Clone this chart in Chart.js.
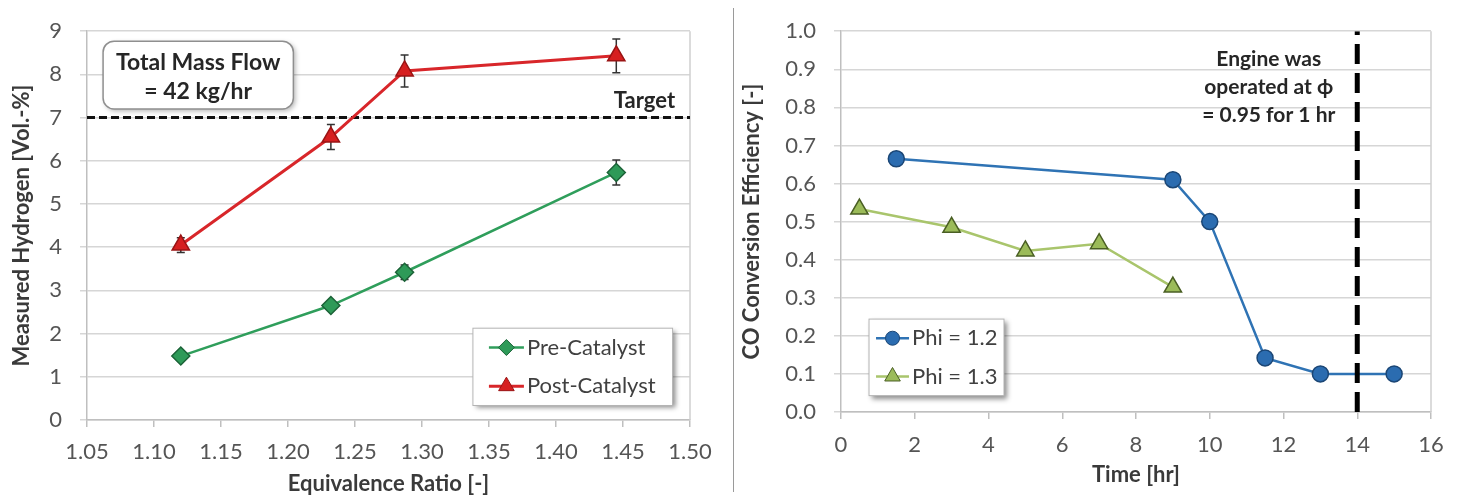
<!DOCTYPE html>
<html>
<head>
<meta charset="utf-8">
<script src="https://cdn.jsdelivr.net/npm/chart.js@4/dist/chart.umd.min.js"></script>
<style>
  body { margin: 0; background: #fff; width: 1458px; height: 497px; overflow: hidden; position: relative; }
  #leftBox { position: absolute; left: 0; top: 0; width: 730px; height: 497px; }
  #rightBox { position: absolute; left: 735px; top: 0; width: 723px; height: 497px; }
  #sep { position: absolute; left: 733px; top: 8px; width: 1px; height: 484px; background: #9a9a9a; }
</style>
</head>
<body>
<div id="leftBox"><canvas id="hydrogenChart"></canvas></div>
<div id="sep"></div>
<div id="rightBox"><canvas id="coChart"></canvas></div>
<script>
// left chart: hydrogen vs equivalence ratio
const ratio = [1.12, 1.232, 1.287, 1.445];
const preCatalyst = [1.48, 2.65, 3.42, 5.73];
const preErr = [0.08, 0.08, 0.17, 0.29];
const postCatalyst = [4.05, 6.55, 8.08, 8.43];
const postErr = [0.17, 0.29, 0.37, 0.39];
const targetH2 = 7;
const ratioRange = [1.05, 1.5];

// right chart: CO conversion efficiency vs time
const timePhi12 = [1.5, 9, 10, 11.5, 13, 15];
const effPhi12 = [0.665, 0.61, 0.5, 0.142, 0.1, 0.1];
const timePhi13 = [0.5, 3, 5, 7, 9];
const effPhi13 = [0.533, 0.485, 0.423, 0.442, 0.328];
const engineChangeTime = 14;

const FONT = 'Lato';
const tickColor = '#555555';
const titleColor = '#3a3a3a';

function pts(xs, ys) { return xs.map((x, i) => ({ x: x, y: ys[i] })); }

function makeExtras(cfg) {
  return {
    id: 'extras',
    beforeDatasetsDraw(chart) {
      const { ctx, chartArea: a, scales: { x, y } } = chart;
      ctx.save();
      ctx.strokeStyle = '#cfcfcf';
      ctx.lineWidth = 1.5;
      ctx.beginPath();
      ctx.moveTo(a.right, a.top);
      ctx.lineTo(a.right, a.bottom);
      ctx.stroke();
      // error bars
      ctx.strokeStyle = '#333';
      ctx.lineWidth = 1.5;
      (cfg.errors || []).forEach(e => {
        e.xs.forEach((xv, i) => {
          const px = x.getPixelForValue(xv);
          const t = y.getPixelForValue(e.ys[i] + e.err[i]);
          const b = y.getPixelForValue(e.ys[i] - e.err[i]);
          ctx.beginPath();
          ctx.moveTo(px, t); ctx.lineTo(px, b);
          ctx.moveTo(px - 4, t); ctx.lineTo(px + 4, t);
          ctx.moveTo(px - 4, b); ctx.lineTo(px + 4, b);
          ctx.stroke();
        });
      });
      ctx.restore();
    },
    afterDatasetsDraw(chart) {
      const { ctx, scales: { x, y } } = chart;
      ctx.save();
      if (cfg.box) {
        const bx = cfg.box;
        const l = x.getPixelForValue(bx.x0), r = x.getPixelForValue(bx.x1);
        const t = y.getPixelForValue(bx.y1), b = y.getPixelForValue(bx.y0);
        ctx.save();
        ctx.shadowColor = 'rgba(0,0,0,0.3)';
        ctx.shadowBlur = 5; ctx.shadowOffsetX = 2; ctx.shadowOffsetY = 2;
        ctx.fillStyle = '#fff';
        ctx.beginPath(); ctx.roundRect(l, t, r - l, b - t, 11); ctx.fill();
        ctx.restore();
        ctx.strokeStyle = '#8f8f8f'; ctx.lineWidth = 1.5;
        ctx.beginPath(); ctx.roundRect(l, t, r - l, b - t, 11); ctx.stroke();
      }
      (cfg.texts || []).forEach(tx => {
        ctx.font = 'bold ' + tx.size + 'px ' + FONT;
        ctx.fillStyle = '#262626';
        ctx.textAlign = 'center';
        ctx.textBaseline = 'middle';
        ctx.fillText(tx.text, x.getPixelForValue(tx.x), y.getPixelForValue(tx.y));
      });
      if (cfg.legend) {
        const lg = cfg.legend;
        const l = x.getPixelForValue(lg.x0), r = x.getPixelForValue(lg.x1);
        const t = y.getPixelForValue(lg.y1), b = y.getPixelForValue(lg.y0);
        ctx.save();
        ctx.shadowColor = 'rgba(0,0,0,0.45)';
        ctx.shadowBlur = 5; ctx.shadowOffsetX = 3; ctx.shadowOffsetY = 3;
        ctx.fillStyle = '#fff';
        ctx.fillRect(l, t, r - l, b - t);
        ctx.restore();
        ctx.strokeStyle = '#b5b5b5'; ctx.lineWidth = 1;
        ctx.strokeRect(l, t, r - l, b - t);
        const h = b - t;
        chart.data.datasets.forEach((ds, i) => {
          if (ds.hideLegend) return;
          const cy = t + h * (0.25 + 0.5 * i);
          const sx = l + lg.sampleStart, ex = sx + lg.sampleWidth;
          ctx.strokeStyle = ds.borderColor; ctx.lineWidth = ds.borderWidth;
          ctx.beginPath(); ctx.moveTo(sx, cy); ctx.lineTo(ex, cy); ctx.stroke();
          ctx.fillStyle = ds.pointBackgroundColor; ctx.strokeStyle = ds.pointBorderColor;
          ctx.lineWidth = 1;
          Chart.helpers.drawPoint(ctx, { pointStyle: ds.pointStyle, radius: ds.pointRadius - 1, rotation: 0, borderWidth: 1 }, (sx + ex) / 2, cy);
          ctx.font = '22px ' + FONT;
          ctx.fillStyle = '#404040';
          ctx.textAlign = 'left'; ctx.textBaseline = 'middle';
          ctx.fillText(ds.label, ex + 3, cy);
        });
      }
      ctx.restore();
    }
  };
}

function scaleX(min, max, step, digits, title, fit, labelPad, titlePad) {
  return {
    type: 'linear', min: min, max: max,
    ticks: { stepSize: step, autoSkip: false, maxRotation: 0, padding: labelPad,
      callback: v => Number(v).toFixed(digits), color: tickColor, font: { family: FONT, size: 22 } },
    grid: { drawOnChartArea: false, tickLength: 7, color: '#bfbfbf', lineWidth: 1.5 },
    border: { color: '#bfbfbf', width: 1.5 },
    title: { display: true, text: title, color: titleColor, font: { family: FONT, size: 22, weight: 'bold' },
      padding: { top: 0, bottom: titlePad } },
    afterFit: s => { s.height = fit; }
  };
}

function scaleY(min, max, step, digits, title, fit, titlePad) {
  return {
    min: min, max: max,
    ticks: { stepSize: step, padding: 18, callback: v => Number(v).toFixed(digits),
      color: tickColor, font: { family: FONT, size: 22 } },
    grid: { color: '#d6d6d6', lineWidth: 1.5, tickLength: 7 },
    border: { color: '#bfbfbf', width: 1.5 },
    title: { display: true, text: title, color: titleColor, font: { family: FONT, size: 22, weight: 'bold' },
      padding: { top: titlePad, bottom: 0 } },
    afterFit: s => { s.width = fit; }
  };
}

new Chart(document.getElementById('hydrogenChart'), {
  type: 'line',
  data: {
    datasets: [
      {
        label: 'Pre-Catalyst', data: pts(ratio, preCatalyst),
        borderColor: '#2f9e5b', borderWidth: 2.5,
        pointStyle: 'rectRot', pointRadius: 9, pointBackgroundColor: '#2e9a58', pointBorderColor: '#1c6338', pointBorderWidth: 1.5
      },
      {
        label: 'Post-Catalyst', data: pts(ratio, postCatalyst),
        borderColor: '#d8262a', borderWidth: 3,
        pointStyle: 'triangle', pointRadius: 10, pointBackgroundColor: '#d61f20', pointBorderColor: '#9a1414', pointBorderWidth: 1.5
      },
      {
        label: 'Target', hideLegend: true, data: pts(ratioRange, [targetH2, targetH2]),
        borderColor: '#111', borderWidth: 3, borderDash: [8, 4], pointRadius: 0, order: 5
      }
    ]
  },
  options: {
    responsive: true, maintainAspectRatio: false, animation: false,
    layout: { padding: { left: 0, right: 40, top: 18, bottom: 0 } },
    elements: { line: { tension: 0 } },
    plugins: { legend: { display: false }, tooltip: { enabled: false } },
    scales: {
      x: scaleX(1.05, 1.5, 0.05, 2, 'Equivalence Ratio [-]', 77, 12, 0),
      y: scaleY(0, 9, 1, 0, 'Measured Hydrogen [Vol.-%]', 87, 9)
    }
  },
  plugins: [makeExtras({
    errors: [
      { xs: ratio, ys: preCatalyst, err: preErr },
      { xs: ratio, ys: postCatalyst, err: postErr }
    ],
    box: { x0: 1.062, x1: 1.204, y0: 7.2, y1: 8.77 },
    texts: [
      { text: 'Total Mass Flow', x: 1.133, y: 8.28, size: 23 },
      { text: '= 42 kg/hr', x: 1.133, y: 7.61, size: 23 },
      { text: 'Target', x: 1.466, y: 7.38, size: 22 }
    ],
    legend: { x0: 1.338, x1: 1.487, y0: 0.336, y1: 2.125, sampleStart: 16, sampleWidth: 35 }
  })]
});

new Chart(document.getElementById('coChart'), {
  type: 'line',
  data: {
    datasets: [
      {
        label: 'Phi = 1.2', data: pts(timePhi12, effPhi12),
        borderColor: '#2f73b4', borderWidth: 2.5,
        pointStyle: 'circle', pointRadius: 8, pointBackgroundColor: '#2b6cb0', pointBorderColor: '#1b4675', pointBorderWidth: 1.5
      },
      {
        label: 'Phi = 1.3', data: pts(timePhi13, effPhi13),
        borderColor: '#a9c56c', borderWidth: 2.5,
        pointStyle: 'triangle', pointRadius: 10, pointBackgroundColor: '#9bbb59', pointBorderColor: '#4a5f24', pointBorderWidth: 1.5
      },
      {
        label: 'Engine change', hideLegend: true, data: pts([engineChangeTime, engineChangeTime], [0, 1]),
        borderColor: '#000', borderWidth: 5, borderDash: [20, 9], pointRadius: 0, order: -1
      }
    ]
  },
  options: {
    responsive: true, maintainAspectRatio: false, animation: false,
    layout: { padding: { left: 0, right: 27, top: 19, bottom: 0 } },
    elements: { line: { tension: 0 } },
    plugins: { legend: { display: false }, tooltip: { enabled: false } },
    scales: {
      x: scaleX(0, 16, 2, 0, 'Time [hr]', 85, 13, 9),
      y: scaleY(0, 1, 0.1, 1, 'CO Conversion Efficiency [-]', 106, 4)
    }
  },
  plugins: [makeExtras({
    texts: [
      { text: 'Engine was', x: 11.6, y: 0.926, size: 21 },
      { text: 'operated at \u03D5', x: 11.6, y: 0.852, size: 21 },
      { text: '= 0.95 for 1 hr', x: 11.6, y: 0.779, size: 21 }
    ],
    legend: { x0: 0.76, x1: 4.42, y0: 0.043, y1: 0.244, sampleStart: 7, sampleWidth: 33 }
  })]
});
</script>
</body>
</html>
